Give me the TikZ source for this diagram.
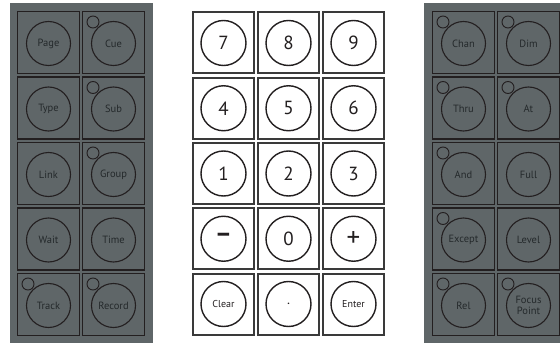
\documentclass[tikz,border=0pt]{standalone}
\usepackage{fontspec}
\setmainfont{PT Sans}
\definecolor{panel}{HTML}{5F6668}
\definecolor{ink}{HTML}{231F20}
\definecolor{greytext}{HTML}{24292B}
\definecolor{numedge}{HTML}{3A3A3A}
\tikzset{
  panelbg/.style={fill=panel, draw=none},
  keybox/.style={rectangle, draw=ink, line width=1.1pt, minimum width=62pt, minimum height=62pt, inner sep=0pt},
  keyring/.style={circle, draw=ink, line width=1.1pt, minimum size=44pt, inner sep=0pt, text=greytext, font=\fontsize{10.5}{10.5}\selectfont, align=center},
  ledring/.style={circle, draw=ink, line width=0.9pt, minimum size=12pt, inner sep=0pt},
  numbox/.style={rectangle, draw=numedge, line width=2pt, minimum width=61pt, minimum height=61pt, inner sep=0pt},
  numring/.style={circle, draw=ink, line width=1.4pt, minimum size=45pt, inner sep=0pt, text=ink, font=\fontsize{19}{19}\selectfont},
  numword/.style={font=\fontsize{10}{10}\selectfont},
  numsign/.style={font=\fontsize{26}{26}\bfseries},
  numplus/.style={font=\fontsize{27}{27}\selectfont}
}
\begin{document}
\begin{tikzpicture}[x=1pt,y=-1pt]
\useasboundingbox (0,0) rectangle (560,345);
\clip (0,0) rectangle (560,345);
\fill[white] (0,0) rectangle (560,345);
% panels
\path[panelbg] (10,3) rectangle (153,343);
\path[panelbg] (424,3) rectangle (570,343);
% left panel keys
\foreach \c/\r/\t/\l in {0/0/Page/0, 1/0/Cue/1, 0/1/Type/0, 1/1/Sub/1, 0/2/Link/0, 1/2/Group/1, 0/3/Wait/0, 1/3/Time/0, 0/4/Track/1, 1/4/Record/1}{
  \pgfmathsetmacro\cx{48.5+65*\c}
  \pgfmathsetmacro\cy{42.5+65.5*\r}
  \node[keybox] (left-\c-\r) at (\cx,\cy) {};
  \node[keyring] (left-\c-\r-ring) at (\cx,\cy+1) {\t};
  \ifnum\l=1
    \node[ledring] (left-\c-\r-led) at (\cx-20.5,\cy-20.5) {};
  \fi
}
% right panel keys
\foreach \c/\r/\t/\l in {0/0/Chan/1, 1/0/Dim/1, 0/1/Thru/1, 1/1/At/1, 0/2/And/1, 1/2/Full/0, 0/3/Except/1, 1/3/Level/0, 0/4/Rel/1, 1/4/{Focus\\Point}/1}{
  \pgfmathsetmacro\cx{463.5+65*\c}
  \pgfmathsetmacro\cy{42.5+65.5*\r}
  \node[keybox] (right-\c-\r) at (\cx,\cy) {};
  \node[keyring] (right-\c-\r-ring) at (\cx,\cy+1) {\t};
  \ifnum\l=1
    \node[ledring] (right-\c-\r-led) at (\cx-20.5,\cy-20.5) {};
  \fi
}
% numeric keypad
\foreach \c/\r/\t/\w in {0/0/7/0, 1/0/8/0, 2/0/9/0, 0/1/4/0, 1/1/5/0, 2/1/6/0, 0/2/1/0, 1/2/2/0, 2/2/3/0, 0/3/−/2, 1/3/0/0, 2/3/+/3, 0/4/Clear/1, 1/4/{\textbf{.}}/1, 2/4/Enter/1}{
  \pgfmathsetmacro\cx{223.5+65*\c}
  \pgfmathsetmacro\cy{43+65.25*\r}
  \node[numbox] (num-\c-\r) at (\cx,\cy) {};
  \ifcase\w
    \node[numring] (num-\c-\r-ring) at (\cx,\cy) {\t};
  \or
    \node[numring,numword] (num-\c-\r-ring) at (\cx,\cy) {\t};
  \or
    \node[numring,numsign] (num-\c-\r-ring) at (\cx,\cy) {\t};
  \or
    \node[numring,numplus] (num-\c-\r-ring) at (\cx,\cy) {\t};
  \fi
}
\end{tikzpicture}
\end{document}
